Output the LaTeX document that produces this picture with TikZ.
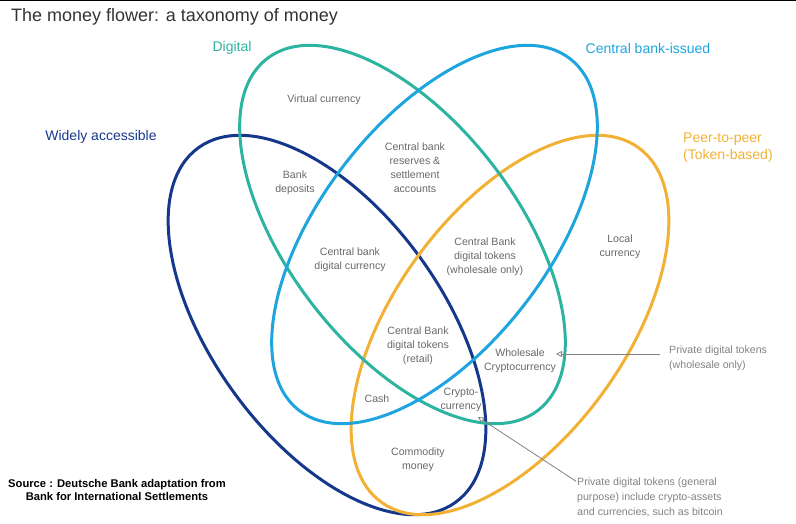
\documentclass[tikz,border=0pt]{standalone}
\usepackage{fontspec}
\setmainfont{Liberation Sans}
\usetikzlibrary{arrows.meta}

\definecolor{navyset}{RGB}{22,56,140}
\definecolor{tealset}{RGB}{45,180,160}
\definecolor{blueset}{RGB}{30,165,222}
\definecolor{orangeset}{RGB}{242,177,52}
\definecolor{labelgray}{RGB}{105,105,105}
\definecolor{notegray}{RGB}{130,130,130}

\tikzset{
  petal/.style={line width=3pt},
  lbl/.style={font=\fontsize{10.6}{14}\selectfont, text=labelgray, align=center, inner sep=0pt},
  setname/.style={font=\fontsize{14}{17}\selectfont, inner sep=0pt},
  note/.style={font=\fontsize{10.6}{15}\selectfont, text=notegray, align=left, inner sep=0pt},
  pointer/.style={draw=notegray, line width=0.8pt, -{Triangle[open, length=6pt, width=6pt]}}
}

\begin{document}
\begin{tikzpicture}[x=1pt, y=-1pt]
\useasboundingbox (0,0) rectangle (796,523);
\fill[black] (0,0) rectangle (796,1.3);

\node (title) at (11,21) [anchor=base west, inner sep=0pt, font=\fontsize{18}{21}\selectfont, text=black!80] {The money flower: a taxonomy of money};

% the four sets
\draw[petal, navyset, rotate around={-54:(327,325)}] (327,325) ellipse [x radius=219pt, y radius=115pt];
\draw[petal, orangeset, rotate around={54:(510,325)}] (510,325) ellipse [x radius=219pt, y radius=115pt];
\draw[petal, tealset, rotate around={-52.4:(402.5,234.5)}] (402.5,234.5) ellipse [x radius=222pt, y radius=114pt];
\draw[petal, blueset, rotate around={52.4:(434.5,234.5)}] (434.5,234.5) ellipse [x radius=222pt, y radius=114pt];

\node (digital) at (232,48) [setname, text=tealset] {Digital};
\node (cbIssued) at (648,48) [setname, text=blueset] {Central bank-issued};
\node (widely) at (101,137) [setname, text=navyset] {Widely accessible};
\node (p2p) at (683,148) [setname, text=orangeset, anchor=west, align=left] {Peer-to-peer\\(Token-based)};

% regions
\node (virtual) at (324,100) [lbl] {Virtual currency};
\node (reserves) at (415,168) [lbl] {Central bank\\reserves \&\\settlement\\accounts};
\node (bankDep) at (295,183) [lbl] {Bank\\deposits};
\node (cbdc) at (350,260) [lbl] {Central bank\\digital currency};
\node (cbdtWhole) at (485,257) [lbl] {Central Bank\\digital tokens\\(wholesale only)};
\node (local) at (620,247) [lbl] {Local\\currency};
\node (cbdtRetail) at (418,346) [lbl] {Central Bank\\digital tokens\\(retail)};
\node (wholeCrypto) at (520,361) [lbl] {Wholesale\\Cryptocurrency};
\node (cash) at (377,399) [lbl] {Cash};
\node (crypto) at (461,400) [lbl] {Crypto-\\currency};
\node (commodity) at (418,460) [lbl] {Commodity\\money};

% notes
\node (pwText) at (669,358) [note, anchor=west] {Private digital tokens\\(wholesale only)};
\node (gpText) at (577,497) [note, anchor=west] {Private digital tokens (general\\purpose) include crypto-assets\\and currencies, such as bitcoin};
\coordinate (wcTip) at (556,354);
\coordinate (cryptoTip) at (478,417);
\draw[pointer] ([xshift=-9pt, yshift=4pt]pwText.west) -- (wcTip);
\draw[pointer] ([xshift=-1pt, yshift=-4pt]gpText.north west) -- (cryptoTip);

\node (source) at (117,490) [inner sep=0pt, align=center, font=\bfseries\fontsize{11.2}{13}\selectfont] {Source : Deutsche Bank adaptation from\\Bank for International Settlements};
\end{tikzpicture}
\end{document}
